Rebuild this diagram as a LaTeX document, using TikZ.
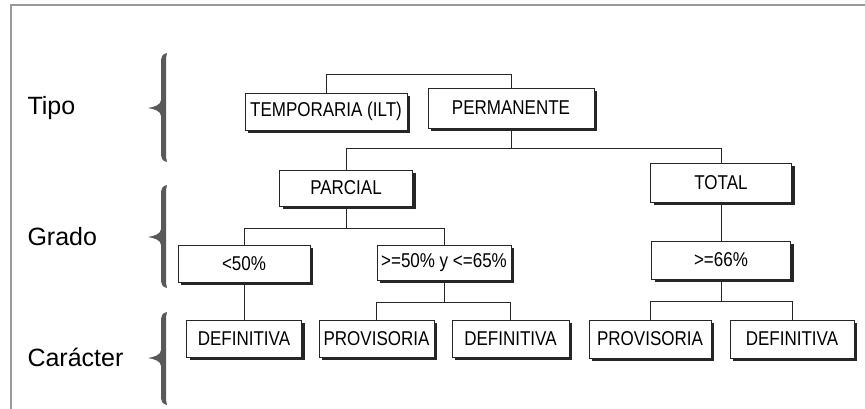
\documentclass[tikz,border=0pt]{standalone}
\usepackage{fontspec}
\setmainfont{Liberation Sans}
\newfontfamily\narrowfont[FakeStretch=0.85]{Liberation Sans}
\usetikzlibrary{shadows}
% llave: arriba, punta, abajo
\newcommand{\dibujallave}[3]{%
  \fill[llave] (167,#1) .. controls (162,#1+1) and (161,#1+4) .. (161,#1+10)
    -- (161,#2-8) .. controls (161,#2-3) and (154,#2-1) .. (148,#2)
    .. controls (154,#2+1) and (161,#2+3) .. (161,#2+8)
    -- (161,#3-10) .. controls (161,#3-4) and (162,#3-1) .. (167,#3)
    .. controls (166,#3-3) and (166,#3-6) .. (166,#3-10)
    -- (166,#1+10) .. controls (166,#1+6) and (166,#1+3) .. (167,#1) -- cycle;}
\begin{document}
\begin{tikzpicture}[x=1pt,y=-1pt,
    caja/.style={draw=black!85,line width=.8pt,fill=white,inner sep=0pt,
      font=\narrowfont\fontsize{20}{22}\selectfont,
      drop shadow={shadow xshift=3pt,shadow yshift=-3pt,fill=black!85,opacity=1}},
    nivel/.style={font=\fontsize{25}{28}\selectfont,anchor=west},
    llave/.style={fill=black!65},
    rama/.style={draw=black!85,line width=.9pt}]
    \useasboundingbox (0,0) rectangle (865,409);
    \draw[black!40,line width=1.5pt] (11,409)--(11,5)--(865,5);
    % niveles
    \node[nivel] (tipo) at (24,108) {Tipo};
    \node[nivel] (grado) at (24,237) {Grado};
    \node[nivel] (caracter) at (24,357) {Carácter};
    \foreach \a/\p/\b in {53/108/162,185/237/288,312/358/405}
        \dibujallave{\a}{\p}{\b};
    % cajas
    \node[caja,minimum width=162pt,minimum height=37pt] (temp) at (326,111.5) {TEMPORARIA (ILT)};
    \node[caja,minimum width=166pt,minimum height=40pt] (perm) at (511,108) {PERMANENTE};
    \node[caja,minimum width=133pt,minimum height=36pt] (parcial) at (346,188) {PARCIAL};
    \node[caja,minimum width=141pt,minimum height=39pt] (total) at (721,182.5) {TOTAL};
    \node[caja,minimum width=132pt,minimum height=37pt] (lt50) at (244,263.5) {<50\%};
    \node[caja,minimum width=134pt,minimum height=35pt] (mid) at (444,262.5) {>=50\% y <=65\%};
    \node[caja,minimum width=139pt,minimum height=38pt] (ge66) at (721,260) {>=66\%};
    \node[caja,minimum width=115pt,minimum height=37pt] (def1) at (244,338.5) {DEFINITIVA};
    \node[caja,minimum width=115pt,minimum height=37pt] (prov1) at (376.5,338.5) {PROVISORIA};
    \node[caja,minimum width=117pt,minimum height=37pt] (def2) at (510.5,338.5) {DEFINITIVA};
    \node[caja,minimum width=122pt,minimum height=38pt] (prov2) at (650,339) {PROVISORIA};
    \node[caja,minimum width=124pt,minimum height=38pt] (def3) at (792,339) {DEFINITIVA};
    % ramas
    \draw[rama] (temp.north) -- ++(0,-18) -| (perm.north);
    \draw[rama] (perm.south) -- ++(0,20) coordinate (b1);
    \draw[rama] (parcial.north) |- (b1) -| (total.north);
    \draw[rama] (parcial.south) -- ++(0,22) coordinate (b2);
    \draw[rama] (lt50.north) |- (b2) -| (mid.north);
    \draw[rama] (total.south) -- (ge66.north);
    \draw[rama] (lt50.south) -- (def1.north);
    \draw[rama] (mid.south) -- ++(0,22) coordinate (b3);
    \draw[rama] (prov1.north) |- (b3) -| (def2.north);
    \draw[rama] (ge66.south) -- ++(0,22) coordinate (b4);
    \draw[rama] (prov2.north) |- (b4) -| (def3.north);
\end{tikzpicture}
\end{document}
